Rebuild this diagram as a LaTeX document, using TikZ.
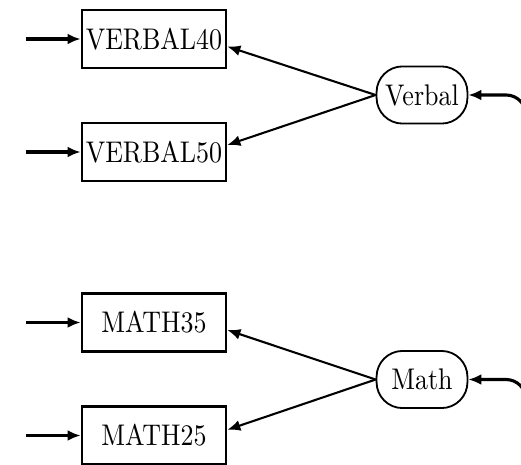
\documentclass[tikz,border=0pt]{standalone}
\usetikzlibrary{arrows.meta,positioning}
\newcommand{\tall}[1]{\scalebox{1}[1.15]{#1}}
\begin{document}
\begin{tikzpicture}[
  x=0.385pt, y=-0.385pt,
  obs/.style={draw, line width=1.1pt, minimum width=55.4pt, minimum height=22.3pt,
              inner sep=0.5pt},
  lat/.style={draw, line width=0.7pt, rounded corners=10pt, minimum width=35pt,
              minimum height=22pt, inner sep=1pt},
  inarr/.style={-{Latex[length=5pt, width=4.2pt]}, line width=1.2pt},
  load/.style={-{Latex[length=5pt, width=4.2pt]}, line width=0.8pt},
  var/.style={-{Latex[length=5pt, width=4.2pt]}, line width=1.2pt, rounded corners=7.7pt}]
\useasboundingbox (0,0) rectangle (521,464);
% indicators
\node[obs] (v40) at (154,39)    {\tall{VERBAL40}};
\node[obs] (v50) at (154,152)   {\tall{VERBAL50}};
\node[obs] (m35) at (154,322.5) {\tall{MATH35}};
\node[obs] (m25) at (154,435.5) {\tall{MATH25}};
% latent factors
\node[lat] (verbal) at (422,95)    {\tall{Verbal}};
\node[lat] (math)   at (422,379.5) {\tall{Math}};
% error terms
\coordinate (e40) at (26,39);
\coordinate (e50) at (26,152);
\coordinate (e35) at (26,322.5);
\coordinate (e25) at (26,435.5);
\draw[inarr] (e40) -- (v40);
\draw[inarr] (e50) -- (v50);
\draw[inarr] (e35) -- (m35);
\draw[inarr] (e25) -- (m25);
% loadings
\draw[load] (verbal.west) -- ([yshift=-2.9pt]v40.east);
\draw[load] (verbal.west) -- ([yshift=2.7pt]v50.east);
\draw[load] (math.west)   -- ([yshift=-2.9pt]m35.east);
\draw[load] (math.west)   -- ([yshift=2.2pt]m25.east);
% variances
\coordinate (vloop) at (526,200);
\coordinate (mloop) at (526,480);
\draw[var] (vloop) |- (verbal.east);
\draw[var] (mloop) |- (math.east);
\end{tikzpicture}
\end{document}
